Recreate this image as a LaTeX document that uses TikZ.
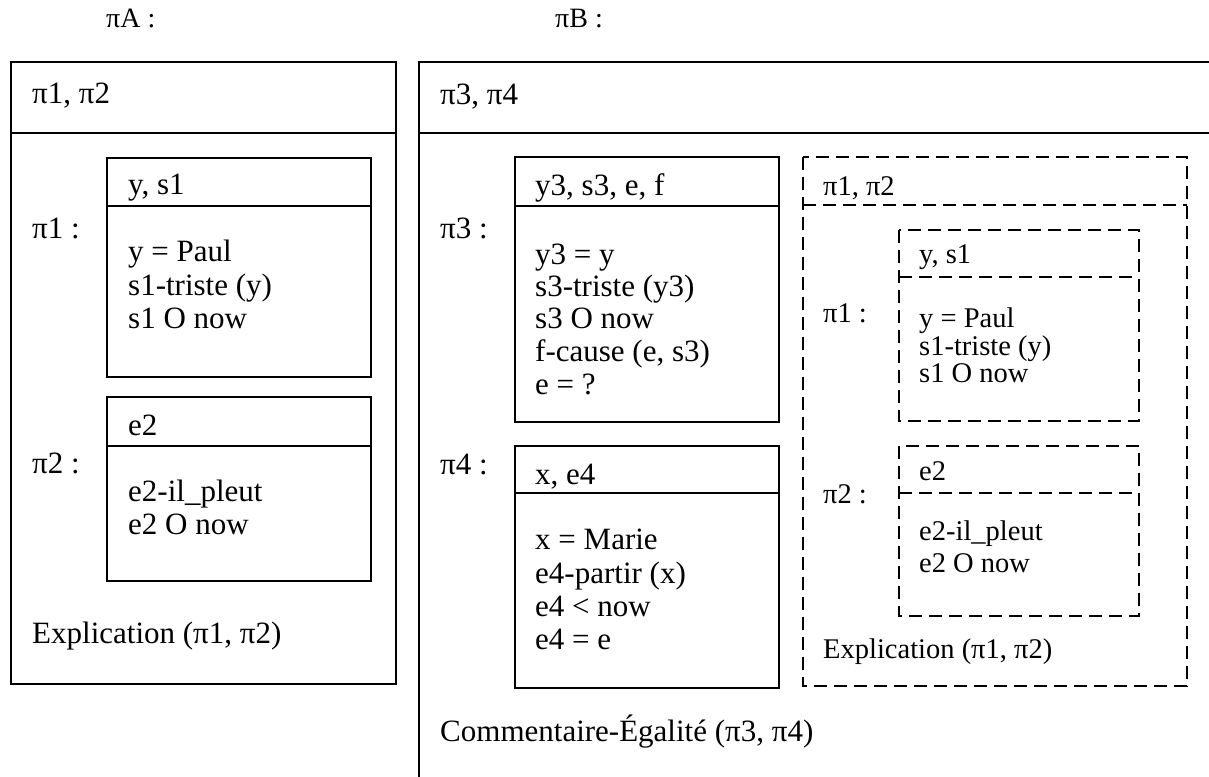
\documentclass[tikz,border=0pt]{standalone}
\usepackage{fontspec}
\setmainfont{Liberation Serif}
\newcommand{\bigfs}{\fontsize{31}{33}\selectfont}
\newcommand{\smallfs}{\fontsize{28.5}{29}\selectfont}
\newcommand{\hdrfs}{\fontsize{28}{30}\selectfont}
\tikzset{
  txt/.style={anchor=west, inner sep=0pt, text height=21pt, text depth=6pt, font=\bigfs},
  stxt/.style={anchor=west, inner sep=0pt, text height=19.5pt, text depth=5.5pt, font=\smallfs},
  htxt/.style={anchor=west, inner sep=0pt, text height=20pt, text depth=6pt, font=\hdrfs},
  solidbox/.style={draw=black, line width=1.5pt},
  dashbox/.style={draw=black, line width=1.5pt, dash pattern=on 13pt off 7pt}
}
\begin{document}
\begin{tikzpicture}[x=1pt,y=-1pt]
\useasboundingbox (0,0) rectangle (1209,776);
% titles
\node[htxt] (pA) at (106,21) {πA :};
\node[htxt] (pB) at (555,21) {πB :};

% ===== pi A =====
\draw[solidbox] (11,62) rectangle (396,684);
\draw[solidbox] (11,133) -- (396,133);
\node[txt] (aH) at (32,96) {π1, π2};
\node[txt] (a1l) at (32,231) {π1 :};
\draw[solidbox] (107,158) rectangle (371,377);
\draw[solidbox] (107,206) -- (371,206);
\node[txt] (a1h) at (128,187) {y, s1};
\node[txt] (a1b1) at (128,254) {y = Paul};
\node[txt] (a1b2) at (128,287.5) {s1-triste (y)};
\node[txt] (a1b3) at (128,321) {s1 O now};
\node[txt] (a2l) at (32,466) {π2 :};
\draw[solidbox] (107,397) rectangle (371,581);
\draw[solidbox] (107,446) -- (371,446);
\node[txt] (a2h) at (128,428) {e2};
\node[txt] (a2b1) at (128,494) {e2-il\_pleut};
\node[txt] (a2b2) at (128,527) {e2 O now};
\node[txt] (aRel) at (32,636) {Explication (π1, π2)};

% ===== pi B =====
\draw[solidbox] (1215,62) -- (419,62) -- (419,782);
\draw[solidbox] (419,133) -- (1215,133);
\node[txt] (bH) at (440,97) {π3, π4};
\node[txt] (b3l) at (440,231) {π3 :};
\draw[solidbox] (515,157) rectangle (779,422);
\draw[solidbox] (515,206) -- (779,206);
\node[txt] (b3h) at (535,188) {y3, s3, e, f};
\node[txt] (b3b1) at (535,257) {y3 = y};
\node[txt] (b3b2) at (535,289) {s3-triste (y3)};
\node[txt] (b3b3) at (535,321) {s3 O now};
\node[txt] (b3b4) at (535,354) {f-cause (e, s3)};
\node[txt] (b3b5) at (535,387) {e = ?};
\node[txt] (b4l) at (440,467) {π4 :};
\draw[solidbox] (515,446) rectangle (779,688);
\draw[solidbox] (515,493) -- (779,493);
\node[txt] (b4h) at (535,477) {x, e4};
\node[txt] (b4b1) at (535,542) {x = Marie};
\node[txt] (b4b2) at (535,576) {e4-partir (x)};
\node[txt] (b4b3) at (535,609) {e4 < now};
\node[txt] (b4b4) at (535,642) {e4 = e};
\node[txt] (bRel) at (440,734) {Commentaire-Égalité (π3, π4)};

% dashed copy of pi A
\draw[dashbox] (803,157) rectangle (1187,686);
\draw[dashbox] (803,205) -- (1187,205);
\node[stxt] (cH) at (823,188) {π1, π2};
\node[stxt] (c1l) at (823,315) {π1 :};
\draw[dashbox] (899,230) rectangle (1139,421);
\draw[dashbox] (899,277) -- (1139,277);
\node[stxt] (c1h) at (919,256) {y, s1};
\node[stxt] (c1b1) at (919,320) {y = Paul};
\node[stxt] (c1b2) at (919,348) {s1-triste (y)};
\node[stxt] (c1b3) at (919,375) {s1 O now};
\node[stxt] (c2l) at (823,496) {π2 :};
\draw[dashbox] (899,446) rectangle (1139,616);
\draw[dashbox] (899,493) -- (1139,493);
\node[stxt] (c2h) at (919,473) {e2};
\node[stxt] (c2b1) at (919,533) {e2-il\_pleut};
\node[stxt] (c2b2) at (919,565) {e2 O now};
\node[stxt] (cRel) at (823,651) {Explication (π1, π2)};
\end{tikzpicture}
\end{document}
